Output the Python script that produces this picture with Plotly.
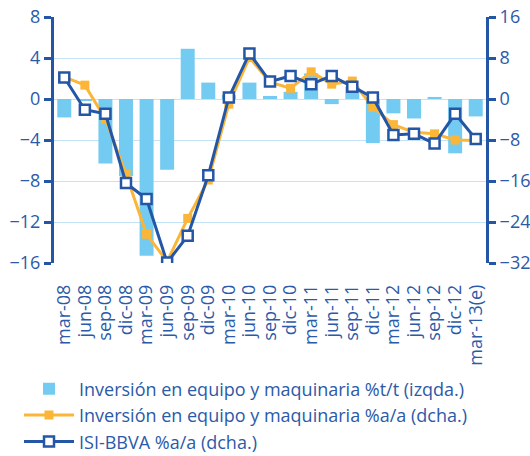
import plotly.graph_objects as go

categories = ["mar-08", "jun-08", "sep-08", "dic-08", "mar-09", "jun-09", "sep-09", "dic-09",
              "mar-10", "jun-10", "sep-10", "dic-10", "mar-11", "jun-11", "sep-11", "dic-11",
              "mar-12", "jun-12", "sep-12", "dic-12", "mar-13(e)"]

inv_tt = [-1.8, -0.1, -6.3, -7.5, -15.3, -6.9, 4.9, 1.6, 0.4, 1.6, 0.3, 0.7,
          2.5, -0.5, 1.2, -4.3, -1.4, -1.9, 0.2, -5.3, -1.7]
inv_aa = [4.3, 2.7, -3.9, -14.7, -26.4, -31.7, -23.3, -15.8, -1.0, 8.1, 3.3, 2.1,
          5.3, 2.9, 3.5, -1.6, -5.0, -6.5, -6.8, -8.0, -8.1]
isi_aa = [4.2, -2.1, -2.9, -16.4, -19.5, -31.9, -26.7, -14.9, 0.3, 8.9, 3.4, 4.5,
          2.9, 4.5, 2.4, 0.3, -7.0, -6.8, -8.7, -2.9, -7.8]

left_ticks = [8, 4, 0, -4, -8, -12, -16]
right_ticks = [16, 8, 0, -8, -16, -24, -32]

names = ["Inversión en equipo y maquinaria %t/t (izqda.)",
         "Inversión en equipo y maquinaria %a/a (dcha.)",
         "ISI-BBVA %a/a (dcha.)"]

DARK = "#2456a6"
TEXT = "#2b5aa8"
LIGHT = "#74cbf1"
ORANGE = "#fbb637"
GRID = "#c4e4f5"
FONT = "Open Sans"

n = len(categories)
idx = list(range(n))

fig = go.Figure()
fig.add_trace(go.Bar(x=idx, y=inv_tt, name=names[0], marker=dict(color=LIGHT, line=dict(width=0)),
                     yaxis="y"))
fig.add_trace(go.Scatter(x=idx, y=inv_aa, name=names[1], yaxis="y2", mode="lines+markers",
                         line=dict(color=ORANGE, width=3),
                         marker=dict(symbol="square", size=9, color=ORANGE)))
fig.add_trace(go.Scatter(x=idx, y=isi_aa, name=names[2], yaxis="y2", mode="lines+markers",
                         line=dict(color=DARK, width=3),
                         marker=dict(symbol="square", size=10, color="white",
                                     line=dict(color=DARK, width=2.5))))

zero_pos = (0 - left_ticks[-1]) / (left_ticks[0] - left_ticks[-1])

fig.update_layout(
    width=530, height=456,
    template="none",
    paper_bgcolor="white", plot_bgcolor="white",
    margin=dict(l=54, r=44, t=17, b=193, autoexpand=False),
    bargap=0.32,
    showlegend=True,
    font=dict(family=FONT, color=TEXT, size=18),
    xaxis=dict(
        range=[-0.5, n - 0.5], tickmode="array", tickvals=idx, ticktext=categories,
        tickangle=-90, showline=False, ticks="", showgrid=False, zeroline=False,
        tickfont=dict(size=18, color=TEXT), ticklabelstandoff=17, automargin=False,
    ),
    xaxis2=dict(
        overlaying="x", anchor="free", position=zero_pos, range=[-0.5, n - 0.5],
        tickmode="array", tickvals=[i - 0.5 for i in range(n + 1)], showticklabels=False,
        ticks="outside", ticklen=6, tickwidth=2, tickcolor=DARK,
        showline=True, linecolor=DARK, linewidth=3, showgrid=False, zeroline=False,
        automargin=False,
    ),
    xaxis3=dict(
        overlaying="x", anchor="free", position=zero_pos, range=[-0.5, n - 0.5],
        tickmode="array", tickvals=idx, showticklabels=False,
        ticks="inside", ticklen=6, tickwidth=2, tickcolor=DARK,
        showline=False, showgrid=False, zeroline=False, automargin=False,
    ),
    yaxis=dict(
        range=[left_ticks[-1], left_ticks[0]], tickmode="array", tickvals=left_ticks,
        ticks="outside", ticklen=7, tickwidth=2.5, tickcolor=DARK,
        showline=True, linecolor=DARK, linewidth=3,
        showgrid=True, gridcolor=GRID, gridwidth=1, zeroline=False,
        tickfont=dict(size=18, color=TEXT), automargin=False,
    ),
    yaxis2=dict(
        overlaying="y", side="right", range=[right_ticks[-1], right_ticks[0]],
        tickmode="array", tickvals=right_ticks,
        ticks="outside", ticklen=7, tickwidth=2.5, tickcolor=DARK,
        showline=True, linecolor=DARK, linewidth=3, showgrid=False, zeroline=False,
        tickfont=dict(size=18, color=TEXT), automargin=False,
    ),
    legend=dict(
        x=-0.081, xanchor="left", y=-0.437, yanchor="top",
        font=dict(size=18, color=TEXT, family=FONT),
        bgcolor="rgba(0,0,0,0)", itemwidth=50, tracegroupgap=0,
        traceorder="normal",
    ),
)

fig.write_html("out.html",
               config={"displayModeBar": False},
               post_script="document.body.style.margin='0';document.body.style.overflow='hidden';")
